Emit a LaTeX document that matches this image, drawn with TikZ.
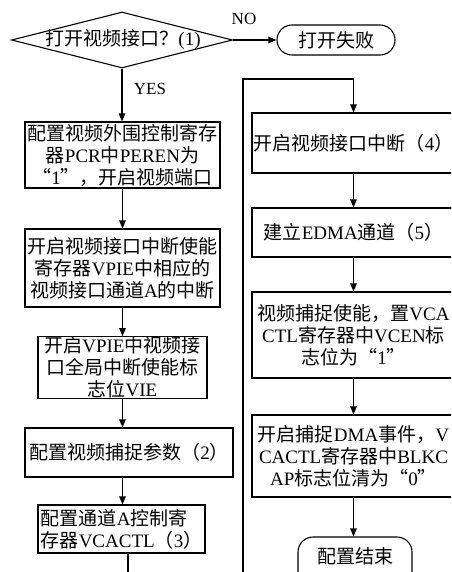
\documentclass[tikz,border=0pt]{standalone}
\usepackage{fontspec}
\setmainfont{Noto Sans CJK SC}
\newfontfamily\latf{Liberation Serif}
\newcommand\latn[1]{{\latf #1}}
\usetikzlibrary{shapes.geometric,arrows.meta,calc}
\tikzset{
  txt/.style={inner sep=0pt, align=center, font=\fontsize{19pt}{22pt}\selectfont},
  box/.style={txt, draw, line width=1.1pt},
  term/.style={draw, line width=1.1pt, rounded corners=15pt, inner sep=0pt, font=\fontsize{19pt}{22pt}\selectfont},
  arr/.style={-{Triangle[length=8pt,width=6.5pt]}, line width=1.1pt},
  ln/.style={line width=1.1pt},
  lab/.style={inner sep=0pt, font=\latf\fontsize{17pt}{20pt}\selectfont},
}
\begin{document}
\begin{tikzpicture}[x=1pt,y=-1pt]
\useasboundingbox[fill=white] (0,0) rectangle (451,572);
\clip (0,0) rectangle (451,572);
% top decision
\node[diamond, draw, line width=1.1pt, minimum width=221pt, minimum height=56pt, inner sep=0pt] (dia) at (122,40) {};
\node[txt] (diat) at (123,40) {打开视频接口？\latn{(1)}};
\node[term, minimum width=118pt, minimum height=30pt] (fail) at (336,40) {打开失败};
\node[lab] (no) at (244,19) {NO};
\node[lab] (yes) at (150,89) {YES};
% left column
\node[box, minimum width=195pt, minimum height=66pt] (B1) at (122.5,155) {配置视频外围控制寄存\\器\latn{PCR}中\latn{PEREN}为\\“\latn{1}”，开启视频端口};
\node[box, minimum width=195pt, minimum height=78pt] (B2) at (122.5,268) {开启视频接口中断使能\\寄存器\latn{VPIE}中相应的\\视频接口通道\latn{A}的中断};
\node[box, minimum width=169pt, minimum height=59pt] (B3) at (122.5,367.5) {开启\latn{VPIE}中视频接\\口全局中断使能标\\志位\latn{VIE}};
\node[box, minimum width=208pt, minimum height=49pt] (B4) at (129,452.5) {配置视频捕捉参数（\latn{2}）};
\node[box, align=left, minimum width=167pt, minimum height=48pt] (B5) at (121.5,529) {配置通道\latn{A}控制寄\\存器\latn{VCACTL}（\latn{3}）};
% right column
\node[box, minimum width=203pt, minimum height=60pt] (R1) at (353.5,143) {开启视频接口中断（\latn{4}）};
\node[box, minimum width=203pt, minimum height=49pt] (R2) at (353.5,232.5) {建立\latn{EDMA}通道（\latn{5}）};
\node[box, minimum width=203pt, minimum height=86pt] (R3) at (353.5,335) {视频捕捉使能，置\latn{VCA}\\\latn{CTL}寄存器中\latn{VCEN}标\\志位为“\latn{1}”};
\node[box, minimum width=203pt, minimum height=82pt] (R4) at (353.5,456) {开启捕捉\latn{DMA}事件，\latn{V}\\\latn{CACTL}寄存器中\latn{BLKC}\\\latn{AP}标志位清为“\latn{0}”};
\node[term, minimum width=114pt, minimum height=60pt] (endt) at (355,567) {};
\node[txt] (endtxt) at (355,556) {配置结束};
% connectors
\draw[arr] (dia.east) -- (fail.west);
\draw[arr] (dia.south) -- (dia.south |- B1.north);
\draw[arr] (B1.south) -- (B2.north);
\draw[arr] (B2.south) -- (B3.north);
\draw[arr] (B3.south) -- (B3.south |- B4.north);
\draw[arr] (B4.south -| B3.south) -- (B5.north -| B3.south);
\coordinate (lend) at (128,572);
\draw[ln] (B5.south -| lend) -- (lend);
\coordinate (rstart) at (243,572);
\coordinate (rtop) at (243,79);
\draw[arr] (rstart) -- (rtop) -| (R1.north);
\draw[arr] (R1.south) -- (R2.north);
\draw[arr] (R2.south) -- (R3.north);
\draw[arr] (R3.south) -- (R4.north);
\draw[arr] (R4.south) -- (R4.south |- endt.north);
\end{tikzpicture}
\end{document}
